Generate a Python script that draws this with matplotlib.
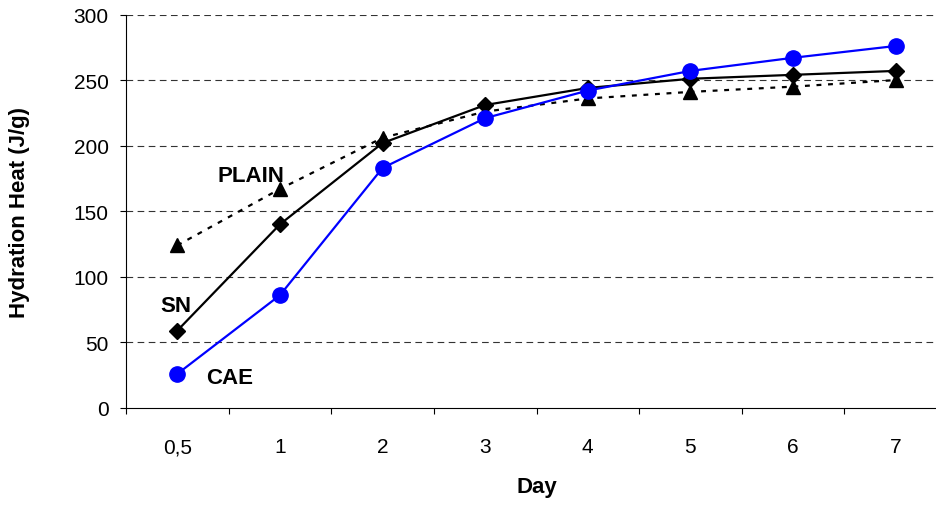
import matplotlib
matplotlib.use("Agg")
import matplotlib.pyplot as plt

days = ["0,5", "1", "2", "3", "4", "5", "6", "7"]
plain = [124, 167, 206, 226, 236, 241, 245, 250]
sn = [59, 140, 202, 231, 244, 251, 254, 257]
cae = [26, 86, 183, 221, 242, 257, 267, 276]
yticks = [0, 50, 100, 150, 200, 250, 300]

plt.rcParams["font.family"] = ["Liberation Sans", "DejaVu Sans"]

W, H = 936, 506
fig = plt.figure(figsize=(W / 100, H / 100), dpi=100)
left, right, top, bottom = 126, 947, 15.5, 409
ax = fig.add_axes([left / W, 1 - bottom / H, (right - left) / W, (bottom - top) / H])

x = list(range(len(days)))
ax.plot(x, plain, color="black", lw=1.6, dashes=(2.2, 3.0), marker="^", markersize=10.5,
        zorder=3)
ax.plot(x, sn, color="black", lw=1.6, marker="D", markersize=8.5, zorder=4)
ax.plot(x, cae, color="#0000ff", lw=1.6, marker="o", markersize=11, zorder=5)

ax.set_xlim(-0.5, len(days) - 0.5)
ax.set_ylim(0, 300)
ax.set_yticks(yticks)
ax.set_yticklabels([str(v) for v in yticks], fontsize=15)
ax.set_xticks(x)
ax.set_xticklabels(days, fontsize=15)
ax.set_xticks([i - 0.5 for i in range(len(days))], minor=True)
ax.tick_params(axis="x", which="major", length=0, pad=21)
ax.tick_params(axis="x", which="minor", length=4.5, width=0.8, direction="out")
ax.tick_params(axis="y", which="major", length=4.5, width=0.8, pad=8, direction="out")

for v in yticks[1:]:
    ax.axhline(v, color="#333333", lw=0.8, dashes=(6, 4), zorder=1)

for s in ["top", "right"]:
    ax.spines[s].set_visible(False)
for s in ["left", "bottom"]:
    ax.spines[s].set_linewidth(0.8)

ax.set_ylabel("Hydration Heat (J/g)", fontsize=16, fontweight="bold", labelpad=31)
ax.set_xlabel("Day", fontsize=16, fontweight="bold", labelpad=14)

ax.text(0.713, 177.6, "PLAIN", fontsize=16, fontweight="bold", ha="center", va="center")
ax.text(-0.013, 77.8, "SN", fontsize=16, fontweight="bold", ha="center", va="center")
ax.text(0.514, 23.6, "CAE", fontsize=16, fontweight="bold", ha="center", va="center")

fig.savefig("out.png", dpi=100)
